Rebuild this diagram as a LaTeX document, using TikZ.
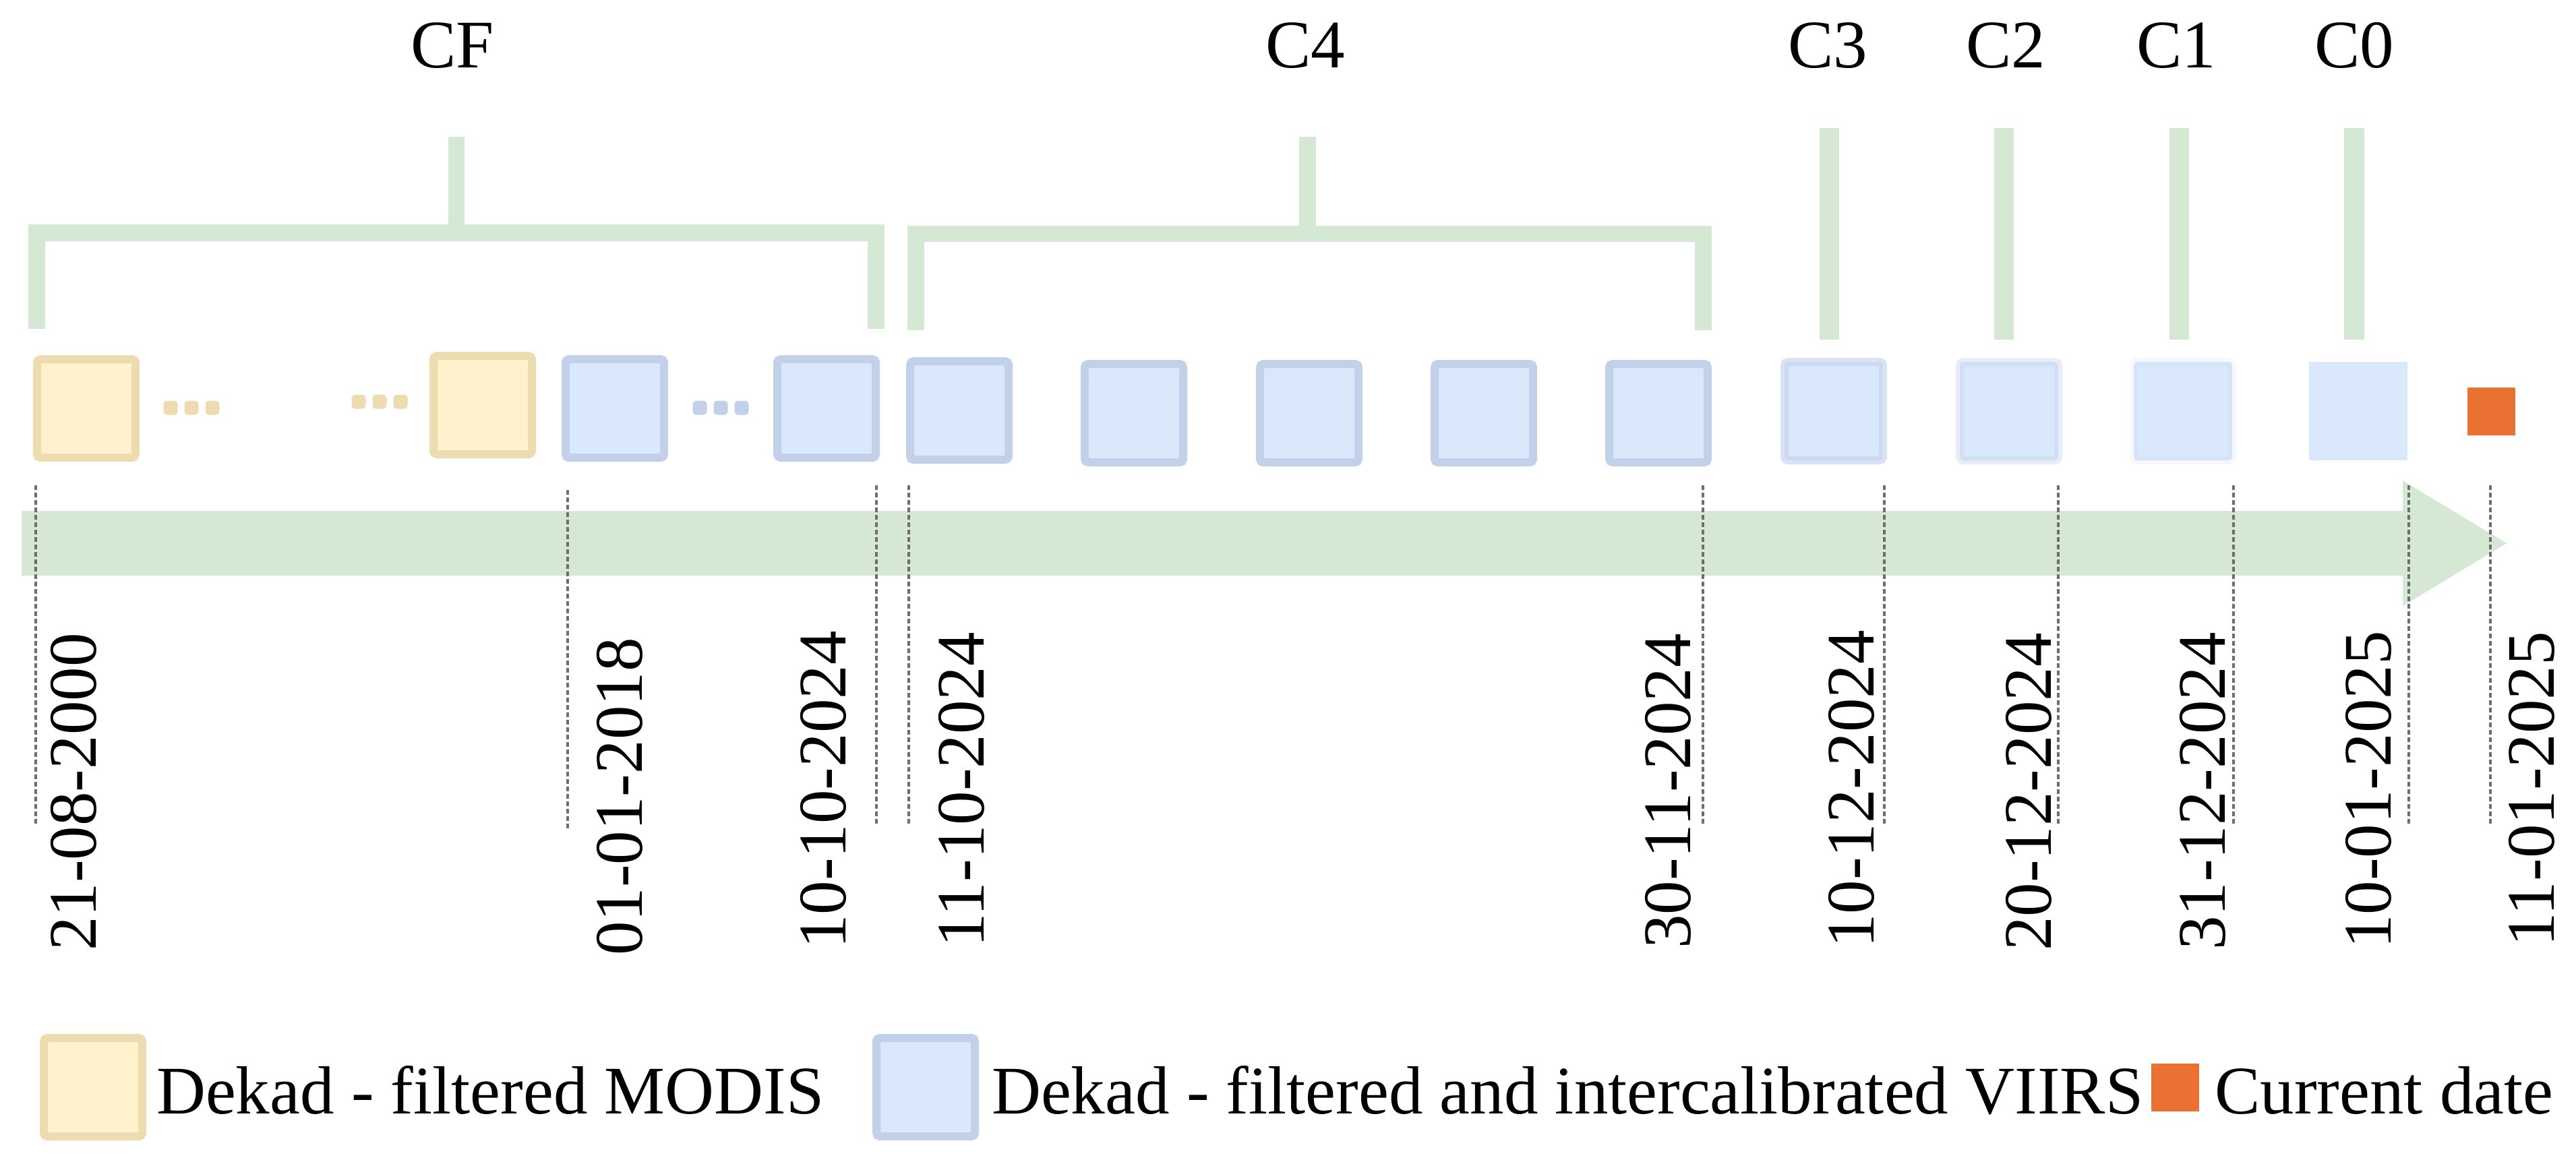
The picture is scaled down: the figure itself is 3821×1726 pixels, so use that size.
\documentclass[tikz,border=0pt]{standalone}
\usepackage{fontspec}
\setmainfont{Liberation Serif}
\definecolor{yfill}{HTML}{FFF2CC}
\definecolor{ystroke}{HTML}{EDDCB0}
\definecolor{bfill}{HTML}{DAE8FC}
\definecolor{bstroke}{HTML}{C2D1E9}
\definecolor{gband}{HTML}{D5E8D4}
\definecolor{cur}{HTML}{E97132}
\definecolor{dashgray}{HTML}{6E6E6E}
\tikzset{
  ybox/.style={draw=ystroke, fill=yfill, line width=12pt, rounded corners=5pt, minimum size=146pt, inner sep=0pt},
  bbox/.style={draw=bstroke, fill=bfill, line width=12pt, rounded corners=5pt, minimum size=146pt, inner sep=0pt},
  ydot/.style={fill=ystroke, rounded corners=5pt, minimum size=21pt, inner sep=0pt},
  bdot/.style={fill=bstroke, rounded corners=5pt, minimum size=21pt, inner sep=0pt},
  curbox/.style={fill=cur, minimum size=71pt, inner sep=0pt},
  txt/.style={font=\fontsize{101}{120}\selectfont, inner sep=0pt},
  lab/.style={txt, anchor=base},
  datelab/.style={txt, rotate=90, anchor=base},
  legtxt/.style={txt, anchor=base west},
  guide/.style={draw=dashgray, line width=3.5pt, dash pattern=on 7pt off 4pt},
  brace/.style={fill=gband}
}
\begin{document}
\begin{tikzpicture}[x=1pt,y=-1pt]
\useasboundingbox (0,0) rectangle (3821,1726);
% brackets
\fill[brace] (42,333) rectangle (1312,358);
\fill[brace] (42,333) rectangle (67,488);
\fill[brace] (1287,333) rectangle (1312,488);
\fill[brace] (665,203) rectangle (689,334);
\fill[brace] (1346,335) rectangle (2539,359);
\fill[brace] (1346,335) rectangle (1371,490);
\fill[brace] (2514,335) rectangle (2539,490);
\fill[brace] (1927,203) rectangle (1952,336);
\fill[brace] (2699,190) rectangle (2728,504);
\fill[brace] (2958,190) rectangle (2987,504);
\fill[brace] (3218,190) rectangle (3247,504);
\fill[brace] (3477,190) rectangle (3507,504);
% labels
\node[lab] (lcf) at (671,101) {CF};
\node[lab] (lc4) at (1936,101) {C4};
\node[lab] (lc3) at (2711,101) {C3};
\node[lab] (lc2) at (2975,101) {C2};
\node[lab] (lc1) at (3228,101) {C1};
\node[lab] (lc0) at (3492,101) {C0};
% boxes
\node[ybox] (y1) at (128,606) {};
\node[ybox] (y2) at (716,601) {};
\node[bbox] (b1) at (912,606) {};
\node[bbox] (b2) at (1226,606) {};
\node[bbox] (b3) at (1423,609) {};
\node[bbox] (b4) at (1682,613) {};
\node[bbox] (b5) at (1942,613) {};
\node[bbox] (b6) at (2201,613) {};
\node[bbox] (b7) at (2460,613) {};
\node[bbox, draw opacity=0.6] (b8) at (2720,610) {};
\node[bbox, draw opacity=0.38] (b9) at (2980,610) {};
\node[bbox, draw opacity=0.15] (b10) at (3238,610) {};
\node[bbox, draw=none, rounded corners=0pt] (b11) at (3498,610) {};
\node[curbox] (now) at (3695,610) {};
% dots
\node[ydot] (yd1) at (253,605) {};
\node[ydot] (yd2) at (284,605) {};
\node[ydot] (yd3) at (315,605) {};
\node[ydot] (yd4) at (532,596) {};
\node[ydot] (yd5) at (563,596) {};
\node[ydot] (yd6) at (594,596) {};
\node[bdot] (bd1) at (1038,605) {};
\node[bdot] (bd2) at (1069,605) {};
\node[bdot] (bd3) at (1100,605) {};
% time band
\fill[gband] (32,758) -- (3564,758) -- (3564,713) -- (3718,806) -- (3564,899) -- (3564,854) -- (32,854) -- cycle;
% guides
\foreach \gx/\gt/\gb in {53/720/1224, 842/727/1230, 1300/720/1224, 1348/720/1224, 2526/720/1224, 2795/720/1224, 3053/720/1224, 3313/720/1224, 3573/720/1224, 3694/720/1224}{
  \coordinate (gt\gx) at (\gx,\gt);
  \coordinate (gb\gx) at (\gx,\gb);
  \draw[guide] (gt\gx) -- (gb\gx);
}
% dates
\node[datelab] (d1) at (142,1175) {21-08-2000};
\node[datelab] (d2) at (952,1182) {01-01-2018};
\node[datelab] (d3) at (1254,1172) {10-10-2024};
\node[datelab] (d4) at (1459,1172) {11-10-2024};
\node[datelab] (d5) at (2507,1174) {30-11-2024};
\node[datelab] (d6) at (2779,1171) {10-12-2024};
\node[datelab] (d7) at (3042,1175) {20-12-2024};
\node[datelab] (d8) at (3300,1174) {31-12-2024};
\node[datelab] (d9) at (3546,1172) {10-01-2025};
\node[datelab] (d10) at (3788,1171) {11-01-2025};
% legend
\node[ybox] (ly) at (138,1613) {};
\node[legtxt] (lyt) at (232,1652) {Dekad - filtered MODIS};
\node[bbox] (lb) at (1373,1613) {};
\node[legtxt] (lbt) at (1471,1652) {Dekad - filtered and intercalibrated VIIRS};
\node[curbox] (lo) at (3226,1613) {};
\node[legtxt] (lot) at (3285,1652) {Current date};
\end{tikzpicture}
\end{document}
